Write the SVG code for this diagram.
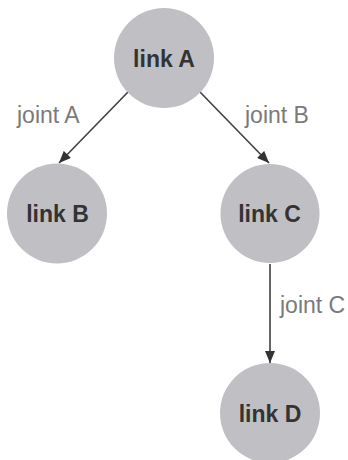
<svg xmlns="http://www.w3.org/2000/svg" width="348" height="460" viewBox="0 0 348 460">
<style>
.node circle{fill:#c0c0c4;}
.node text{font-family:"Liberation Sans",Arial,sans-serif;font-weight:bold;font-size:23px;fill:#333;text-anchor:middle;}
.edge line{stroke:#404040;stroke-width:1.6;marker-end:url(#arr);}
.lbl{font-family:"Liberation Sans",Arial,sans-serif;font-size:23px;fill:#7a7a7a;}
</style>
<defs>
<marker id="arr" viewBox="0 0 12 10" refX="12" refY="5" markerWidth="13" markerHeight="10" orient="auto" markerUnits="userSpaceOnUse">
<path d="M0,0 L12,5 L0,10 z" fill="#333"/>
</marker>
</defs>
<rect width="348" height="460" fill="#fff"/>
<g id="edges" class="edge">
<line x1="128" y1="92" x2="59" y2="163"/>
<line x1="200" y1="92" x2="269" y2="163"/>
<line x1="270" y1="264" x2="270" y2="363"/>
<text class="lbl" x="17" y="123">joint A</text>
<text class="lbl" x="245" y="123">joint B</text>
<text class="lbl" x="280" y="313">joint C</text>
</g>
<g id="linkA" class="node"><circle cx="164" cy="58" r="50"/><text x="164" y="67">link A</text></g>
<g id="linkB" class="node"><circle cx="57" cy="213.5" r="50"/><text x="57.5" y="222">link B</text></g>
<g id="linkC" class="node"><circle cx="270" cy="213.5" r="49.5"/><text x="269.5" y="222">link C</text></g>
<g id="linkD" class="node"><circle cx="270" cy="413" r="50"/><text x="270" y="422">link D</text></g>
</svg>
